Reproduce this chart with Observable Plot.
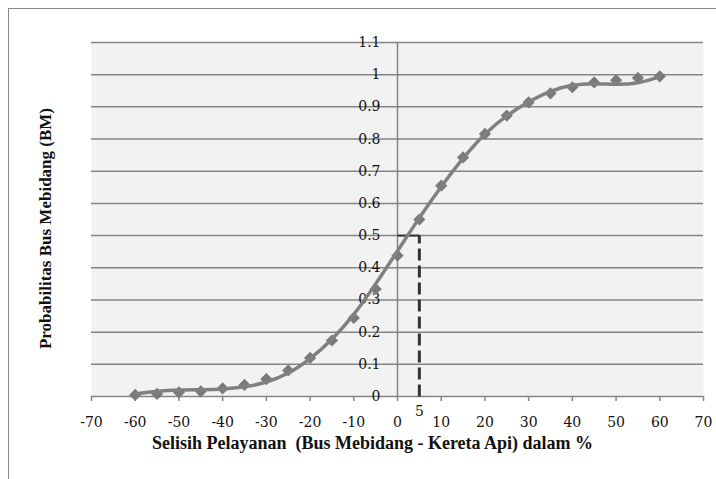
<!DOCTYPE html>
<html>
<head>
<meta charset="utf-8">
<script src="https://cdn.jsdelivr.net/npm/d3@7"></script>
<script src="https://cdn.jsdelivr.net/npm/@observablehq/plot@0.6"></script>
<style>
  html, body { margin: 0; padding: 0; background: #fff; overflow: hidden; }
  #wrap { position: relative; width: 716px; height: 479px; }
  #border { position: absolute; left: 8px; top: 8px; width: 800px; height: 600px;
            border-top: 1.5px solid #8a8a8a; border-left: 1.5px solid #8a8a8a; }
  #chart { position: absolute; left: 0; top: 0; }
</style>
</head>
<body>
<div id="wrap"><div id="border"></div><div id="chart"></div></div>
<script>
// Observed points (diamonds)
const xValues = [-60,-55,-50,-45,-40,-35,-30,-25,-20,-15,-10,-5,0,5,10,15,20,25,30,35,40,45,50,55,60];
const probValues = [0.005,0.008,0.013,0.016,0.025,0.036,0.054,0.081,0.12,0.174,0.244,0.334,0.438,0.55,0.655,0.743,0.816,0.873,0.914,0.942,0.961,0.976,0.983,0.99,0.995];
// Trend line
const trendValues = [0.008,0.016,0.02,0.021,0.023,0.03,0.045,0.073,0.118,0.178,0.255,0.35,0.452,0.555,0.652,0.74,0.815,0.872,0.915,0.948,0.967,0.972,0.970,0.975,0.993];
// Axis ticks
const xTicks = [-70,-60,-50,-40,-30,-20,-10,0,10,20,30,40,50,60,70];
const yTicks = [0,0.1,0.2,0.3,0.4,0.5,0.6,0.7,0.8,0.9,1,1.1];
// Reference marker
const refX = [5];
const refY = [0.5];

const xTitle = "Selisih Pelayanan  (Bus Mebidang - Kereta Api) dalam %";
const yTitle = "Probabilitas Bus Mebidang (BM)";

const points = xValues.map((x, i) => ({x, y: probValues[i]}));
const trend = xValues.map((x, i) => ({x, y: trendValues[i]}));
const refPt = refX.map((x, i) => ({x, y: refY[i]}));

const serif = "'DejaVu Serif', serif";
const titleFont = "'Liberation Serif', 'Times New Roman', serif";

const chart = Plot.plot({
  width: 716,
  height: 479,
  marginLeft: 91,
  marginRight: 13,
  marginTop: 42,
  marginBottom: 83,
  style: {fontFamily: serif, fontSize: "14px", color: "#111", background: "transparent"},
  x: {domain: [-70, 70]},
  y: {domain: [0, 1.1]},
  marks: [
    Plot.frame({fill: "#f2f2f2", stroke: null}),
    Plot.gridY(yTicks, {stroke: "#858585", strokeOpacity: 1, strokeWidth: 1.5}),
    Plot.ruleX([0], {stroke: "#858585", strokeWidth: 1.5}),
    Plot.axisX(xTicks, {tickSize: 5, tickPadding: 16, stroke: "#858585", strokeWidth: 1.5,
      fontSize: 14, fill: "#111", label: null, tickFormat: d => d}),
    Plot.axisY({ticks: [], label: null}),
    Plot.text(yTicks, {x: 0, y: d => d, text: d => String(d), textAnchor: "end", dx: -17,
      fontSize: 14, fill: "#111"}),
    // reference lines
    Plot.link(refPt, {x1: d => d.x, x2: d => d.x, y1: 0, y2: d => d.y, stroke: "#333",
      strokeWidth: 3, strokeDasharray: "12,5"}),
    Plot.link(refPt, {x1: 0, x2: d => d.x, y1: d => d.y, y2: d => d.y, stroke: "#333", strokeWidth: 2}),
    Plot.text(refPt, {x: d => d.x, y: 0, text: d => String(d.x), dy: 15, fontSize: 14, fill: "#111"}),
    // data
    Plot.dot(points, {x: "x", y: "y", symbol: "diamond2", r: 5.5, fill: "#7a7a7a", stroke: null}),
    Plot.line(trend, {x: "x", y: "y", curve: "natural", stroke: "#808080", strokeWidth: 3.5}),
    // titles
    Plot.text([xTitle], {frameAnchor: "bottom", textAnchor: "middle", lineAnchor: "middle",
      dx: -25, dy: 47, text: d => d,
      fontFamily: titleFont, fontWeight: "bold", fontSize: 18, fill: "#111"}),
    Plot.text([yTitle], {frameAnchor: "left", textAnchor: "middle", lineAnchor: "middle",
      dx: -46, dy: 9, rotate: -90, text: d => d,
      fontFamily: titleFont, fontWeight: "bold", fontSize: 17, fill: "#111"})
  ]
});
document.getElementById("chart").appendChild(chart);
</script>
</body>
</html>
